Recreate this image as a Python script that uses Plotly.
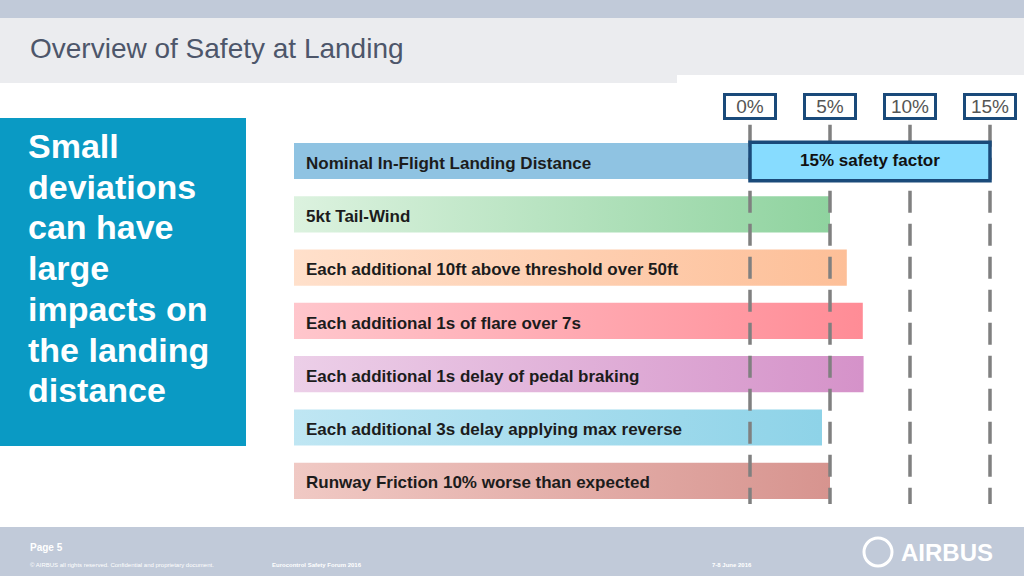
import plotly.graph_objects as go

labels = ["Nominal In-Flight Landing Distance", "5kt Tail-Wind",
          "Each additional 10ft above threshold over 50ft",
          "Each additional 1s of flare over 7s",
          "Each additional 1s delay of pedal braking",
          "Each additional 3s delay applying max reverse",
          "Runway Friction 10% worse than expected"]
extra_pct = [0, 5.0, 6.05, 7.05, 7.1, 4.5, 5.0]
nominal_len = 28.5   # nominal distance drawn as % units left of 0
safety = 15
ticks = [0, 5, 10, 15]
tick_labels = ["0%", "5%", "10%", "15%"]
grad = [("#8fc3e2", "#8fc3e2"), ("#dcf2df", "#8fd39f"), ("#ffe0cb", "#fdbf98"),
        ("#ffc6cc", "#ff8c96"), ("#eccfe8", "#d592c9"), ("#bfe6f3", "#8ed3e8"),
        ("#f0c9c4", "#d7948f")]

FONT = "Liberation Sans"
n = len(labels)
sp = 53.3
ytop = -161 / sp
ybot = (576 - 161) / sp
bh = 0.34

fig = go.Figure()
for i in range(n):
    x0, x1 = -nominal_len, extra_pct[i]
    fig.add_trace(go.Scatter(
        x=[x0, x1, x1, x0, x0], y=[i - bh, i - bh, i + bh, i + bh, i - bh],
        fill="toself", mode="lines", line=dict(width=0), hoverinfo="skip",
        fillgradient=dict(type="horizontal",
                          colorscale=[[0, grad[i][0]], [1, grad[i][1]]])))
    fig.add_annotation(x=x0, y=i + 0.04, text="<b>%s</b>" % labels[i],
                       xanchor="left", xshift=10, showarrow=False,
                       font=dict(family=FONT, size=17, color="#1c1c1c"))

shapes = []
def rect(x0, x1, y0, y1, color):
    shapes.append(dict(type="rect", xref="paper", yref="paper", x0=x0/1024, x1=x1/1024,
                       y0=1-y1/576, y1=1-y0/576, fillcolor=color, line_width=0, layer="below"))
rect(0, 1024, 0, 18, "#c1cad9")
rect(0, 1024, 18, 83, "#ebecef")
rect(677, 1024, 75, 83, "#ffffff")
rect(0, 246, 118, 446, "#0a9ac4")
rect(0, 1024, 527, 576, "#c1cad9")
for t in ticks:
    shapes.append(dict(type="line", x0=t, x1=t, y0=-0.68, y1=ybot - 1.35,
                       line=dict(color="#808080", width=3.5, dash="22px,11px"), layer="above"))
shapes.append(dict(type="rect", x0=0, x1=safety, y0=-0.35, y1=0.37,
                   fillcolor="#87dcff", line=dict(color="#1a4a7a", width=3.5)))
fig.update_layout(shapes=shapes)

for t, tl in zip(ticks, tick_labels):
    fig.add_annotation(x=t, y=-1.03, text=tl, showarrow=False, width=46, height=19,
                       bordercolor="#1a4a7a", borderwidth=3, bgcolor="white",
                       font=dict(family=FONT, size=19, color="#555555"))
fig.add_annotation(x=safety / 2, y=-0.01, text="<b>15% safety factor</b>", showarrow=False,
                   font=dict(family=FONT, size=17, color="#111111"))

def ptext(x, y, text, size, color, bold=False, anchor="left"):
    fig.add_annotation(xref="paper", yref="paper", x=x/1024, y=1-y/576,
                       text=("<b>%s</b>" % text) if bold else text, showarrow=False,
                       xanchor=anchor, yanchor="middle", align="left",
                       font=dict(family=FONT, size=size, color=color))
ptext(28, 48, "Overview of Safety at Landing", 28, "#4d566a")
for k, line in enumerate(["Small", "deviations", "can have", "large",
                          "impacts on", "the landing", "distance"]):
    ptext(26, 146 + k * 40.7, line, 34, "white", bold=True)
ptext(28, 547, "Page 5", 10, "white", bold=True)
ptext(28, 565, "© AIRBUS all rights reserved. Confidential and proprietary document.", 6, "white")
ptext(270, 565, "Eurocontrol Safety Forum 2016", 6, "white", bold=True)
ptext(710, 565, "7-8 June 2016", 6, "white", bold=True)
ptext(995, 552, "<b>AIRBUS</b>", 24, "white", anchor="right")
fig.add_shape(type="circle", xref="paper", yref="paper", x0=864/1024, x1=892/1024,
              y0=1-566/576, y1=1-538/576, line=dict(color="white", width=3))

fig.update_layout(width=1024, height=576, margin=dict(l=0, r=0, t=0, b=0),
                  paper_bgcolor="white", plot_bgcolor="rgba(0,0,0,0)", showlegend=False,
                  xaxis=dict(range=[-750/16, (1024-750)/16], visible=False, fixedrange=True),
                  yaxis=dict(range=[ybot, ytop], visible=False, fixedrange=True))
fig.write_html("out.html", config={"displayModeBar": False})

with open("out.html", encoding="utf-8") as f:
    html = f.read()
html = html.replace("<head>", "<head><style>html,body{margin:0;padding:0;overflow:hidden}</style>", 1)
with open("out.html", "w", encoding="utf-8") as f:
    f.write(html)
